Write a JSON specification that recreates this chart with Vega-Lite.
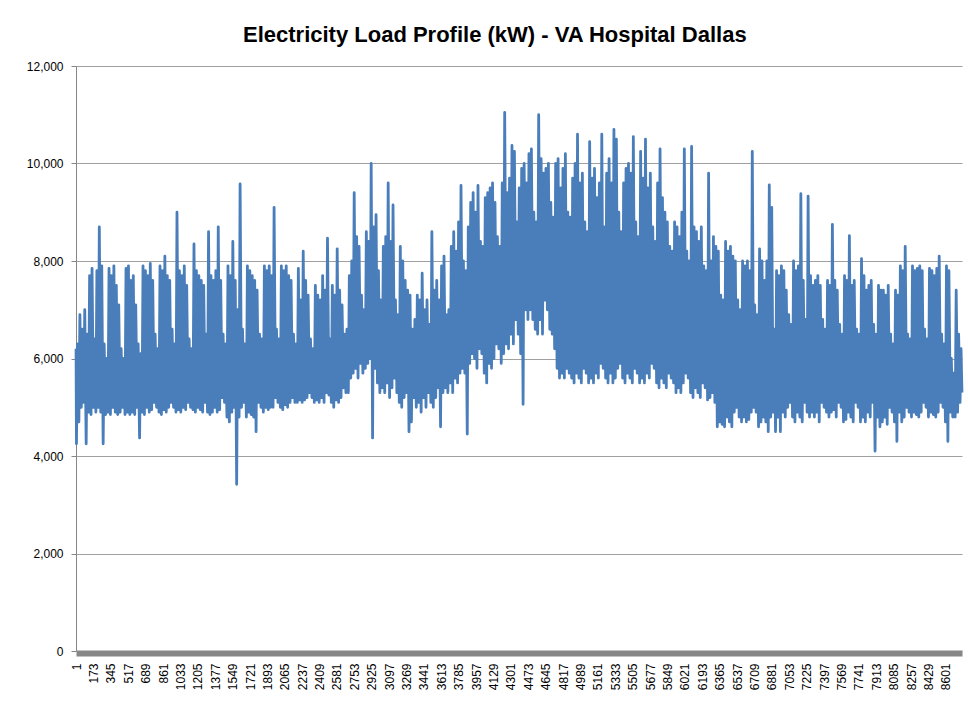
{
"$schema": "https://vega.github.io/schema/vega-lite/v6.json",
"width": 886,
"height": 585,
"padding": {"left": 26, "top": 24, "right": 4, "bottom": 0},
"background": "white",
"title": {"text": "Electricity Load Profile (kW) - VA Hospital Dallas", "font": "Liberation Sans", "fontSize": 22, "fontWeight": "bold", "color": "#000000", "anchor": "middle", "frame": "bounds", "offset": 13},
"config": {"view": {"stroke": null}},
"data": {"values": [
{"h":1,"v":6200},
{"h":5,"v":4250},{"h":15,"v":6300},{"h":29,"v":4700},{"h":39,"v":6900},{"h":53,"v":5000},{"h":63,"v":6600},{"h":77,"v":5100},{"h":87,"v":7000},{"h":101,"v":4250},{"h":111,"v":6500},{"h":125,"v":4900},{"h":135,"v":7700},{"h":149,"v":4850},{"h":159,"v":7850},{"h":173,"v":5000},{"h":183,"v":6400},{"h":197,"v":4900},{"h":207,"v":7800},{"h":221,"v":5000},{"h":231,"v":8700},
{"h":245,"v":4900},{"h":255,"v":7900},{"h":269,"v":4250},{"h":279,"v":6300},{"h":293,"v":4850},{"h":303,"v":6000},{"h":317,"v":4900},{"h":327,"v":7850},{"h":341,"v":4850},{"h":351,"v":7700},{"h":365,"v":5000},{"h":375,"v":7900},{"h":389,"v":4900},{"h":399,"v":7500},{"h":413,"v":4850},{"h":423,"v":7100},{"h":437,"v":4900},{"h":447,"v":6200},{"h":461,"v":5000},{"h":471,"v":6000},
{"h":485,"v":4850},{"h":495,"v":7850},{"h":509,"v":4900},{"h":519,"v":7900},{"h":533,"v":4850},{"h":543,"v":7600},{"h":557,"v":4900},{"h":567,"v":7700},{"h":581,"v":4850},{"h":591,"v":7100},{"h":605,"v":5000},{"h":615,"v":6300},{"h":629,"v":4370},{"h":639,"v":6100},{"h":653,"v":4900},{"h":663,"v":7900},{"h":677,"v":4850},{"h":687,"v":7800},{"h":701,"v":5000},{"h":711,"v":7700},
{"h":725,"v":4900},{"h":735,"v":7950},{"h":749,"v":4950},{"h":759,"v":7600},{"h":773,"v":5100},{"h":783,"v":6500},{"h":797,"v":5000},{"h":807,"v":6200},{"h":821,"v":4900},{"h":831,"v":7900},{"h":845,"v":4850},{"h":855,"v":7800},{"h":869,"v":4950},{"h":879,"v":8100},{"h":893,"v":4900},{"h":903,"v":7700},{"h":917,"v":5000},{"h":927,"v":7600},{"h":941,"v":5100},{"h":951,"v":6600},
{"h":965,"v":5000},{"h":975,"v":6300},{"h":989,"v":4900},{"h":999,"v":9000},{"h":1013,"v":4950},{"h":1023,"v":7800},{"h":1037,"v":4900},{"h":1047,"v":7700},{"h":1061,"v":5000},{"h":1071,"v":7900},{"h":1085,"v":4950},{"h":1095,"v":7500},{"h":1109,"v":5100},{"h":1119,"v":6400},{"h":1133,"v":5000},{"h":1143,"v":6200},{"h":1157,"v":4950},{"h":1167,"v":8350},{"h":1181,"v":4900},{"h":1191,"v":7800},
{"h":1205,"v":5000},{"h":1215,"v":7700},{"h":1229,"v":4950},{"h":1239,"v":7600},{"h":1253,"v":4900},{"h":1263,"v":7500},{"h":1277,"v":5100},{"h":1287,"v":6500},{"h":1301,"v":4900},{"h":1311,"v":8600},{"h":1325,"v":4850},{"h":1335,"v":7700},{"h":1349,"v":4900},{"h":1359,"v":7600},{"h":1373,"v":5000},{"h":1383,"v":7800},{"h":1397,"v":4900},{"h":1407,"v":8700},{"h":1421,"v":4950},{"h":1431,"v":7600},
{"h":1445,"v":5200},{"h":1455,"v":6500},{"h":1469,"v":5100},{"h":1479,"v":6300},{"h":1493,"v":4800},{"h":1503,"v":7900},{"h":1517,"v":4700},{"h":1527,"v":7700},{"h":1541,"v":4900},{"h":1551,"v":8400},{"h":1565,"v":5000},{"h":1575,"v":7600},{"h":1589,"v":3420},{"h":1599,"v":7000},{"h":1613,"v":4800},{"h":1623,"v":9580},{"h":1637,"v":5000},{"h":1647,"v":6600},{"h":1661,"v":5100},{"h":1671,"v":6300},
{"h":1685,"v":4800},{"h":1695,"v":7900},{"h":1709,"v":4900},{"h":1719,"v":7800},{"h":1733,"v":4850},{"h":1743,"v":7700},{"h":1757,"v":4800},{"h":1767,"v":7600},{"h":1781,"v":4500},{"h":1791,"v":7400},{"h":1805,"v":5100},{"h":1815,"v":6500},{"h":1829,"v":5000},{"h":1839,"v":6400},{"h":1853,"v":4900},{"h":1863,"v":7900},{"h":1877,"v":5000},{"h":1887,"v":7800},{"h":1901,"v":4950},{"h":1911,"v":7900},
{"h":1925,"v":5000},{"h":1935,"v":7700},{"h":1949,"v":5000},{"h":1959,"v":9100},{"h":1973,"v":5200},{"h":1983,"v":6600},{"h":1997,"v":5100},{"h":2007,"v":6400},{"h":2021,"v":5000},{"h":2031,"v":7900},{"h":2045,"v":4950},{"h":2055,"v":7800},{"h":2069,"v":5050},{"h":2079,"v":7900},{"h":2093,"v":5000},{"h":2103,"v":7700},{"h":2117,"v":5100},{"h":2127,"v":7600},{"h":2141,"v":5200},{"h":2151,"v":6500},
{"h":2165,"v":5100},{"h":2175,"v":6300},{"h":2189,"v":5100},{"h":2199,"v":7850},{"h":2213,"v":5150},{"h":2223,"v":7200},{"h":2237,"v":5100},{"h":2247,"v":8200},{"h":2261,"v":5150},{"h":2271,"v":7600},{"h":2285,"v":5200},{"h":2295,"v":7300},{"h":2309,"v":5300},{"h":2319,"v":6400},{"h":2333,"v":5200},{"h":2343,"v":6200},{"h":2357,"v":5100},{"h":2367,"v":7500},{"h":2381,"v":5150},{"h":2391,"v":7300},
{"h":2405,"v":5100},{"h":2415,"v":7200},{"h":2429,"v":5200},{"h":2439,"v":7700},{"h":2453,"v":5100},{"h":2463,"v":7400},{"h":2477,"v":5300},{"h":2487,"v":8470},{"h":2501,"v":5250},{"h":2511,"v":6400},{"h":2525,"v":5100},{"h":2535,"v":7500},{"h":2549,"v":5000},{"h":2559,"v":7300},{"h":2573,"v":5150},{"h":2583,"v":8250},{"h":2597,"v":5100},{"h":2607,"v":7400},{"h":2621,"v":5200},{"h":2631,"v":7100},
{"h":2645,"v":5400},{"h":2655,"v":6500},{"h":2669,"v":5300},{"h":2679,"v":6600},{"h":2693,"v":5300},{"h":2703,"v":7700},{"h":2717,"v":5600},{"h":2727,"v":8000},{"h":2741,"v":5700},{"h":2751,"v":9400},{"h":2765,"v":5800},{"h":2775,"v":8500},{"h":2789,"v":5600},{"h":2799,"v":8300},{"h":2813,"v":5900},{"h":2823,"v":7300},{"h":2837,"v":5700},{"h":2847,"v":7000},{"h":2861,"v":5800},{"h":2871,"v":8600},
{"h":2885,"v":5900},{"h":2895,"v":8400},{"h":2909,"v":6000},{"h":2919,"v":10000},{"h":2933,"v":4370},{"h":2943,"v":8700},{"h":2957,"v":5800},{"h":2967,"v":8950},{"h":2981,"v":5500},{"h":2991,"v":7800},{"h":3005,"v":5300},{"h":3015,"v":7200},{"h":3029,"v":5400},{"h":3039,"v":8300},{"h":3053,"v":5300},{"h":3063,"v":8500},{"h":3077,"v":5500},{"h":3087,"v":9600},{"h":3101,"v":5200},{"h":3111,"v":8400},
{"h":3125,"v":5400},{"h":3135,"v":9150},{"h":3149,"v":5600},{"h":3159,"v":7200},{"h":3173,"v":5300},{"h":3183,"v":6900},{"h":3197,"v":5100},{"h":3207,"v":8300},{"h":3221,"v":5000},{"h":3231,"v":8000},{"h":3245,"v":5200},{"h":3255,"v":7600},{"h":3269,"v":5300},{"h":3279,"v":7400},{"h":3293,"v":4500},{"h":3303,"v":7300},{"h":3317,"v":4700},{"h":3327,"v":6600},{"h":3341,"v":5200},{"h":3351,"v":6800},
{"h":3365,"v":5000},{"h":3375,"v":7300},{"h":3389,"v":5100},{"h":3399,"v":7200},{"h":3413,"v":4900},{"h":3423,"v":7750},{"h":3437,"v":5200},{"h":3447,"v":7000},{"h":3461,"v":5000},{"h":3471,"v":7200},{"h":3485,"v":5300},{"h":3495,"v":6700},{"h":3509,"v":5100},{"h":3519,"v":8600},{"h":3533,"v":5000},{"h":3543,"v":7400},{"h":3557,"v":5200},{"h":3567,"v":7600},{"h":3581,"v":5400},{"h":3591,"v":7200},
{"h":3605,"v":4600},{"h":3615,"v":7900},{"h":3629,"v":5300},{"h":3639,"v":8100},{"h":3653,"v":5400},{"h":3663,"v":6900},{"h":3677,"v":5300},{"h":3687,"v":7000},{"h":3701,"v":5500},{"h":3711,"v":8300},{"h":3725,"v":5300},{"h":3735,"v":8600},{"h":3749,"v":5600},{"h":3759,"v":8200},{"h":3773,"v":5500},{"h":3783,"v":8800},{"h":3797,"v":5700},{"h":3807,"v":9550},{"h":3821,"v":5800},{"h":3831,"v":8000},
{"h":3845,"v":5700},{"h":3855,"v":7800},{"h":3869,"v":4450},{"h":3879,"v":8700},{"h":3893,"v":5900},{"h":3903,"v":9200},{"h":3917,"v":6100},{"h":3927,"v":9400},{"h":3941,"v":6000},{"h":3951,"v":9000},{"h":3965,"v":5800},{"h":3975,"v":9550},{"h":3989,"v":6200},{"h":3999,"v":8400},{"h":4013,"v":6100},{"h":4023,"v":8300},{"h":4037,"v":5700},{"h":4047,"v":9300},{"h":4061,"v":5500},{"h":4071,"v":9400},
{"h":4085,"v":5900},{"h":4095,"v":9500},{"h":4109,"v":5800},{"h":4119,"v":9600},{"h":4133,"v":6000},{"h":4143,"v":9200},{"h":4157,"v":6300},{"h":4167,"v":8500},{"h":4181,"v":6200},{"h":4191,"v":8300},{"h":4205,"v":5900},{"h":4215,"v":9600},{"h":4229,"v":6100},{"h":4239,"v":11050},{"h":4253,"v":6300},{"h":4263,"v":9400},{"h":4277,"v":6200},{"h":4287,"v":9700},{"h":4301,"v":6500},{"h":4311,"v":10370},
{"h":4325,"v":6300},{"h":4335,"v":10250},{"h":4349,"v":6800},{"h":4359,"v":8800},{"h":4373,"v":6500},{"h":4383,"v":9500},{"h":4397,"v":6100},{"h":4407,"v":9900},{"h":4421,"v":5060},{"h":4431,"v":10000},{"h":4445,"v":7000},{"h":4455,"v":9600},{"h":4469,"v":6800},{"h":4479,"v":10200},{"h":4493,"v":7000},{"h":4503,"v":10300},{"h":4517,"v":6800},{"h":4527,"v":9000},{"h":4541,"v":6600},{"h":4551,"v":8800},
{"h":4565,"v":6500},{"h":4575,"v":11000},{"h":4589,"v":6800},{"h":4599,"v":10100},{"h":4613,"v":6500},{"h":4623,"v":9800},{"h":4637,"v":7200},{"h":4647,"v":9900},{"h":4661,"v":7000},{"h":4671,"v":10000},{"h":4685,"v":6600},{"h":4695,"v":9200},{"h":4709,"v":6500},{"h":4719,"v":8900},{"h":4733,"v":6200},{"h":4743,"v":10000},{"h":4757,"v":5800},{"h":4767,"v":10100},{"h":4781,"v":5600},{"h":4791,"v":9500},
{"h":4805,"v":5700},{"h":4815,"v":9900},{"h":4829,"v":5600},{"h":4839,"v":10200},{"h":4853,"v":5800},{"h":4863,"v":9000},{"h":4877,"v":5700},{"h":4887,"v":8900},{"h":4901,"v":5600},{"h":4911,"v":9700},{"h":4925,"v":5500},{"h":4935,"v":10000},{"h":4949,"v":5700},{"h":4959,"v":10600},{"h":4973,"v":5600},{"h":4983,"v":9600},{"h":4997,"v":5500},{"h":5007,"v":9800},{"h":5021,"v":5800},{"h":5031,"v":8800},
{"h":5045,"v":5700},{"h":5055,"v":8600},{"h":5069,"v":5500},{"h":5079,"v":10450},{"h":5093,"v":5600},{"h":5103,"v":9700},{"h":5117,"v":5500},{"h":5127,"v":9900},{"h":5141,"v":5700},{"h":5151,"v":9300},{"h":5165,"v":5600},{"h":5175,"v":9600},{"h":5189,"v":5900},{"h":5199,"v":10600},{"h":5213,"v":5800},{"h":5223,"v":8700},{"h":5237,"v":5600},{"h":5247,"v":9800},{"h":5261,"v":5500},{"h":5271,"v":10100},
{"h":5285,"v":5700},{"h":5295,"v":9600},{"h":5309,"v":5500},{"h":5319,"v":10700},{"h":5333,"v":5600},{"h":5343,"v":10500},{"h":5357,"v":5800},{"h":5367,"v":9000},{"h":5381,"v":5900},{"h":5391,"v":8600},{"h":5405,"v":5600},{"h":5415,"v":9600},{"h":5429,"v":5500},{"h":5439,"v":9900},{"h":5453,"v":5700},{"h":5463,"v":10000},{"h":5477,"v":5600},{"h":5487,"v":9800},{"h":5501,"v":5500},{"h":5511,"v":10550},
{"h":5525,"v":5800},{"h":5535,"v":8800},{"h":5549,"v":5700},{"h":5559,"v":8500},{"h":5573,"v":5500},{"h":5583,"v":10250},{"h":5597,"v":5600},{"h":5607,"v":9700},{"h":5621,"v":5500},{"h":5631,"v":10500},{"h":5645,"v":5700},{"h":5655,"v":9500},{"h":5669,"v":5600},{"h":5679,"v":9800},{"h":5693,"v":5900},{"h":5703,"v":8700},{"h":5717,"v":5800},{"h":5727,"v":8400},{"h":5741,"v":5500},{"h":5751,"v":9600},
{"h":5765,"v":5400},{"h":5775,"v":10300},{"h":5789,"v":5600},{"h":5799,"v":9300},{"h":5813,"v":5500},{"h":5823,"v":9000},{"h":5837,"v":5400},{"h":5847,"v":8800},{"h":5861,"v":5700},{"h":5871,"v":8300},{"h":5885,"v":5600},{"h":5895,"v":8200},{"h":5909,"v":5500},{"h":5919,"v":8800},{"h":5933,"v":5300},{"h":5943,"v":8700},{"h":5957,"v":5400},{"h":5967,"v":8500},{"h":5981,"v":5300},{"h":5991,"v":9000},
{"h":6005,"v":5500},{"h":6015,"v":10300},{"h":6029,"v":5700},{"h":6039,"v":8200},{"h":6053,"v":5600},{"h":6063,"v":8000},{"h":6077,"v":5300},{"h":6087,"v":10350},{"h":6101,"v":5200},{"h":6111,"v":8700},{"h":6125,"v":5400},{"h":6135,"v":8600},{"h":6149,"v":5300},{"h":6159,"v":8400},{"h":6173,"v":5200},{"h":6183,"v":8700},{"h":6197,"v":5500},{"h":6207,"v":7900},{"h":6221,"v":5400},{"h":6231,"v":7800},
{"h":6245,"v":5150},{"h":6255,"v":9800},{"h":6269,"v":5200},{"h":6279,"v":8000},{"h":6293,"v":5300},{"h":6303,"v":8500},{"h":6317,"v":5100},{"h":6327,"v":8300},{"h":6341,"v":4600},{"h":6351,"v":8200},{"h":6365,"v":4700},{"h":6375,"v":7300},{"h":6389,"v":4650},{"h":6399,"v":7200},{"h":6413,"v":4600},{"h":6423,"v":8400},{"h":6437,"v":4800},{"h":6447,"v":8200},{"h":6461,"v":4700},{"h":6471,"v":8300},
{"h":6485,"v":4600},{"h":6495,"v":8100},{"h":6509,"v":4900},{"h":6519,"v":8000},{"h":6533,"v":5000},{"h":6543,"v":7200},{"h":6557,"v":4800},{"h":6567,"v":7000},{"h":6581,"v":4700},{"h":6591,"v":8000},{"h":6605,"v":4800},{"h":6615,"v":7900},{"h":6629,"v":4700},{"h":6639,"v":8000},{"h":6653,"v":4750},{"h":6663,"v":7800},{"h":6677,"v":4900},{"h":6687,"v":10250},{"h":6701,"v":5000},{"h":6711,"v":7100},
{"h":6725,"v":4900},{"h":6735,"v":6900},{"h":6749,"v":4600},{"h":6759,"v":8250},{"h":6773,"v":4700},{"h":6783,"v":8000},{"h":6797,"v":4800},{"h":6807,"v":7600},{"h":6821,"v":4700},{"h":6831,"v":8000},{"h":6845,"v":4500},{"h":6855,"v":9560},{"h":6869,"v":4800},{"h":6879,"v":9100},{"h":6893,"v":4900},{"h":6903,"v":6600},{"h":6917,"v":4500},{"h":6927,"v":7800},{"h":6941,"v":4800},{"h":6951,"v":7700},
{"h":6965,"v":4500},{"h":6975,"v":7900},{"h":6989,"v":4900},{"h":6999,"v":7800},{"h":7013,"v":4800},{"h":7023,"v":7400},{"h":7037,"v":5000},{"h":7047,"v":6900},{"h":7061,"v":5100},{"h":7071,"v":6700},{"h":7085,"v":4800},{"h":7095,"v":8000},{"h":7109,"v":4700},{"h":7119,"v":7800},{"h":7133,"v":4900},{"h":7143,"v":7900},{"h":7157,"v":4800},{"h":7167,"v":9380},{"h":7181,"v":4700},{"h":7191,"v":7600},
{"h":7205,"v":5100},{"h":7215,"v":6800},{"h":7229,"v":4900},{"h":7239,"v":9330},{"h":7253,"v":4800},{"h":7263,"v":7700},{"h":7277,"v":4900},{"h":7287,"v":7500},{"h":7301,"v":4800},{"h":7311,"v":7600},{"h":7325,"v":4900},{"h":7335,"v":7700},{"h":7349,"v":4700},{"h":7359,"v":7500},{"h":7373,"v":5100},{"h":7383,"v":6800},{"h":7397,"v":5000},{"h":7407,"v":6600},{"h":7421,"v":4900},{"h":7431,"v":7600},
{"h":7445,"v":4800},{"h":7455,"v":7500},{"h":7469,"v":4900},{"h":7479,"v":8750},{"h":7493,"v":4950},{"h":7503,"v":7600},{"h":7517,"v":4800},{"h":7527,"v":7400},{"h":7541,"v":5100},{"h":7551,"v":6700},{"h":7565,"v":5000},{"h":7575,"v":6500},{"h":7589,"v":4700},{"h":7599,"v":7700},{"h":7613,"v":4750},{"h":7623,"v":7600},{"h":7637,"v":4900},{"h":7647,"v":8520},{"h":7661,"v":4800},{"h":7671,"v":7500},
{"h":7685,"v":4700},{"h":7695,"v":7600},{"h":7709,"v":5100},{"h":7719,"v":6600},{"h":7733,"v":5000},{"h":7743,"v":6500},{"h":7757,"v":4700},{"h":7767,"v":8050},{"h":7781,"v":4800},{"h":7791,"v":7700},{"h":7805,"v":4700},{"h":7815,"v":7400},{"h":7829,"v":4900},{"h":7839,"v":7500},{"h":7853,"v":4800},{"h":7863,"v":7600},{"h":7877,"v":5100},{"h":7887,"v":6700},{"h":7901,"v":4100},{"h":7911,"v":6500},
{"h":7925,"v":4800},{"h":7935,"v":7500},{"h":7949,"v":4600},{"h":7959,"v":7400},{"h":7973,"v":4700},{"h":7983,"v":7400},{"h":7997,"v":4800},{"h":8007,"v":7300},{"h":8021,"v":4650},{"h":8031,"v":7500},{"h":8045,"v":5000},{"h":8055,"v":6500},{"h":8069,"v":4900},{"h":8079,"v":6300},{"h":8093,"v":4700},{"h":8103,"v":7400},{"h":8117,"v":4300},{"h":8127,"v":7300},{"h":8141,"v":4900},{"h":8151,"v":7900},
{"h":8165,"v":4700},{"h":8175,"v":7800},{"h":8189,"v":4800},{"h":8199,"v":8300},{"h":8213,"v":5000},{"h":8223,"v":6500},{"h":8237,"v":4900},{"h":8247,"v":6400},{"h":8261,"v":4800},{"h":8271,"v":7900},{"h":8285,"v":4900},{"h":8295,"v":7800},{"h":8309,"v":4850},{"h":8319,"v":7850},{"h":8333,"v":4800},{"h":8343,"v":7900},{"h":8357,"v":4900},{"h":8367,"v":7800},{"h":8381,"v":5100},{"h":8391,"v":6600},
{"h":8405,"v":5000},{"h":8415,"v":6400},{"h":8429,"v":4800},{"h":8439,"v":7850},{"h":8453,"v":4900},{"h":8463,"v":7800},{"h":8477,"v":4850},{"h":8487,"v":7700},{"h":8501,"v":4800},{"h":8511,"v":7850},{"h":8525,"v":4900},{"h":8535,"v":8100},{"h":8549,"v":5100},{"h":8559,"v":6500},{"h":8573,"v":5000},{"h":8583,"v":6300},{"h":8597,"v":4700},{"h":8607,"v":7900},{"h":8621,"v":4300},{"h":8631,"v":7800},
{"h":8645,"v":4900},{"h":8655,"v":6000},{"h":8669,"v":4800},{"h":8679,"v":5700},{"h":8693,"v":4800},{"h":8703,"v":7400},{"h":8717,"v":4900},{"h":8727,"v":6500},{"h":8741,"v":5100},{"h":8751,"v":6200},{"h":8760,"v":5300}
]},
"mark": {"type": "line", "color": "#4A7EBB", "strokeWidth": 2.8, "strokeJoin": "round"},
"encoding": {
"x": {"field": "h", "type": "quantitative", "scale": {"domain": [0.5, 8760.5], "nice": false, "zero": false},
 "axis": {"title": null, "values": [1,173,345,517,689,861,1033,1205,1377,1549,1721,1893,2065,2237,2409,2581,2753,2925,3097,3269,3441,3613,3785,3957,4129,4301,4473,4645,4817,4989,5161,5333,5505,5677,5849,6021,6193,6365,6537,6709,6881,7053,7225,7397,7569,7741,7913,8085,8257,8429,8601],
  "format": "d", "labelAngle": 270, "labelFont": "Liberation Sans", "labelFontSize": 12, "labelColor": "#000000", "labelPadding": 10, "ticks": false, "tickSize": 0, "domainWidth": 6, "domainColor": "#878787", "offset": 2, "labelOverlap": false, "labelFlush": false, "labelBound": false, "grid": false}},
"y": {"field": "v", "type": "quantitative", "scale": {"domain": [0, 12000], "nice": false},
 "axis": {"title": null, "values": [0,2000,4000,6000,8000,10000,12000], "format": ",d", "labelFont": "Liberation Sans", "labelFontSize": 12, "labelColor": "#000000", "labelPadding": 8, "tickSize": 5, "tickColor": "#868686", "domainColor": "#868686", "gridColor": "#a0a0a0", "grid": true}}
}
}
